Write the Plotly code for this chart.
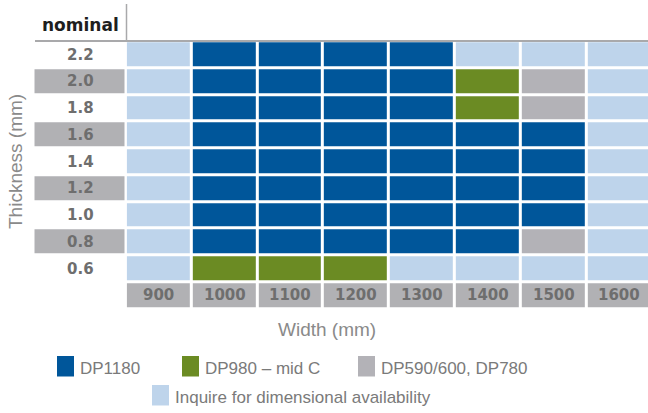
import plotly.graph_objects as go

W, H = 648, 413

widths = ["900", "1000", "1100", "1200", "1300", "1400", "1500", "1600"]
thickness = ["2.2", "2.0", "1.8", "1.6", "1.4", "1.2", "1.0", "0.8", "0.6"]  # top to bottom
grades = ["Inquire for dimensional availability", "DP1180", "DP980 – mid C", "DP590/600, DP780"]
grade_colors = ["#bed4eb", "#00569a", "#6b8b23", "#b3b2b7"]
# codes: 0 inquire, 1 DP1180, 2 DP980, 3 DP590/600/780
availability = [
    [0, 1, 1, 1, 1, 0, 0, 0],
    [0, 1, 1, 1, 1, 2, 3, 0],
    [0, 1, 1, 1, 1, 2, 3, 0],
    [0, 1, 1, 1, 1, 1, 1, 0],
    [0, 1, 1, 1, 1, 1, 1, 0],
    [0, 1, 1, 1, 1, 1, 1, 0],
    [0, 1, 1, 1, 1, 1, 1, 0],
    [0, 1, 1, 1, 1, 1, 3, 0],
    [0, 2, 2, 2, 0, 0, 0, 0],
]
label_shading = [0, 1, 0, 1, 0, 1, 0, 1, 0]  # alternating row label backgrounds

LABEL_GRAY = "#b1b1b4"
TEXT_GRAY = "#6e6e6e"

def px(x):
    return x / W

def py(y):
    return 1 - y / H

cs = [[0, grade_colors[0]], [1/6, grade_colors[0]], [1/6, grade_colors[1]], [0.5, grade_colors[1]],
      [0.5, grade_colors[2]], [5/6, grade_colors[2]], [5/6, grade_colors[3]], [1, grade_colors[3]]]

fig = go.Figure()

fig.add_trace(go.Heatmap(
    x=widths, y=thickness, z=availability, zmin=0, zmax=3, colorscale=cs,
    showscale=False, xgap=3, ygap=3, hoverinfo="skip", xaxis="x", yaxis="y"))

# width label row
fig.add_trace(go.Heatmap(
    x=widths, y=["Width"], z=[[1] * len(widths)], zmin=0, zmax=1,
    colorscale=[[0, "#ffffff"], [1, LABEL_GRAY]], showscale=False, xgap=3, ygap=3,
    hoverinfo="skip", xaxis="x", yaxis="y"))

# thickness label column
fig.add_trace(go.Heatmap(
    x=["nominal"], y=thickness, z=[[v] for v in label_shading], zmin=0, zmax=1,
    colorscale=[[0, "#ffffff"], [1, LABEL_GRAY]], showscale=False, xgap=3, ygap=3,
    hoverinfo="skip", xaxis="x2", yaxis="y"))

ycats = ["Width"] + thickness[::-1]
top_px, bot_px = 41.2, 308.8
pitch_x = 65.8
x0_px = 125.8

axis_common = dict(showgrid=False, zeroline=False, showticklabels=False, ticks="", showline=False)
fig.update_layout(
    width=W, height=H, margin=dict(l=0, r=0, t=0, b=0),
    paper_bgcolor="white", plot_bgcolor="white",
    xaxis=dict(domain=[px(x0_px), 1], range=[-0.5, -0.5 + (W - x0_px) / pitch_x],
               type="category", categoryorder="array", categoryarray=widths, **axis_common),
    xaxis2=dict(domain=[px(33.5), px(126.5)], range=[-0.5, 0.5], type="category",
                anchor="y", **axis_common),
    yaxis=dict(domain=[py(bot_px), py(top_px)], range=[-0.5, 9.5], type="category",
               categoryorder="array", categoryarray=ycats, **axis_common),
    showlegend=False,
)

cell_font = dict(family="DejaVu Sans", size=15, color=TEXT_GRAY, weight="bold")

shapes = [
    dict(type="line", xref="paper", yref="paper", x0=px(35), x1=1, y0=py(41), y1=py(41),
         line=dict(color="#a9a9ab", width=2)),
    dict(type="line", xref="paper", yref="paper", x0=px(126.5), x1=px(126.5), y0=py(4), y1=py(41),
         line=dict(color="#a9a9ab", width=1.5)),
]
annotations = [
    dict(text="nominal", x=px(80.5), y=py(25), xref="paper", yref="paper", showarrow=False,
         xanchor="center", yanchor="middle",
         font=dict(family="DejaVu Sans", size=17, color="#1e1e1e", weight="bold")),
    dict(text="Width (mm)", x=px(327), y=py(329), xref="paper", yref="paper", showarrow=False,
         xanchor="center", yanchor="middle",
         font=dict(family="Liberation Sans", size=19, color="#8a8a8a")),
    dict(text="Thickness (mm)", x=px(15), y=py(162), xref="paper", yref="paper", showarrow=False,
         xanchor="center", yanchor="middle",
         textangle=-90, font=dict(family="Liberation Sans", size=19, color="#8a8a8a")),
]
# category annotations use category index positions on the category axes
for w in widths:
    annotations.append(dict(text=w, x=widths.index(w), y=ycats.index("Width"), xref="x", yref="y",
                            showarrow=False, xanchor="center", yanchor="middle", font=cell_font))
for t in thickness:
    annotations.append(dict(text=t, x=0, y=ycats.index(t), xref="x2", yref="y", showarrow=False,
                            xanchor="center", yanchor="middle", font=cell_font))

legend_items = [  # (grade index, square left px, square top px)
    (1, 57, 356),
    (2, 182, 356),
    (3, 358, 356),
    (0, 152, 385),
]
for gi, lx, ty in legend_items:
    shapes.append(dict(type="rect", xref="paper", yref="paper", x0=px(lx), x1=px(lx + 17),
                       y0=py(ty), y1=py(ty + 20.5), fillcolor=grade_colors[gi], line=dict(width=0)))
    annotations.append(dict(text=grades[gi], x=px(lx + 20.5), y=py(ty + 12), xref="paper", yref="paper",
                            xanchor="left", yanchor="middle", showarrow=False,
                            font=dict(family="Liberation Sans", size=17, color="#7a7a7a")))

fig.update_layout(shapes=shapes, annotations=annotations)
fig.write_html("out.html", config={"displayModeBar": False},
               post_script="document.body.style.margin='0';document.body.style.overflow='hidden';")
